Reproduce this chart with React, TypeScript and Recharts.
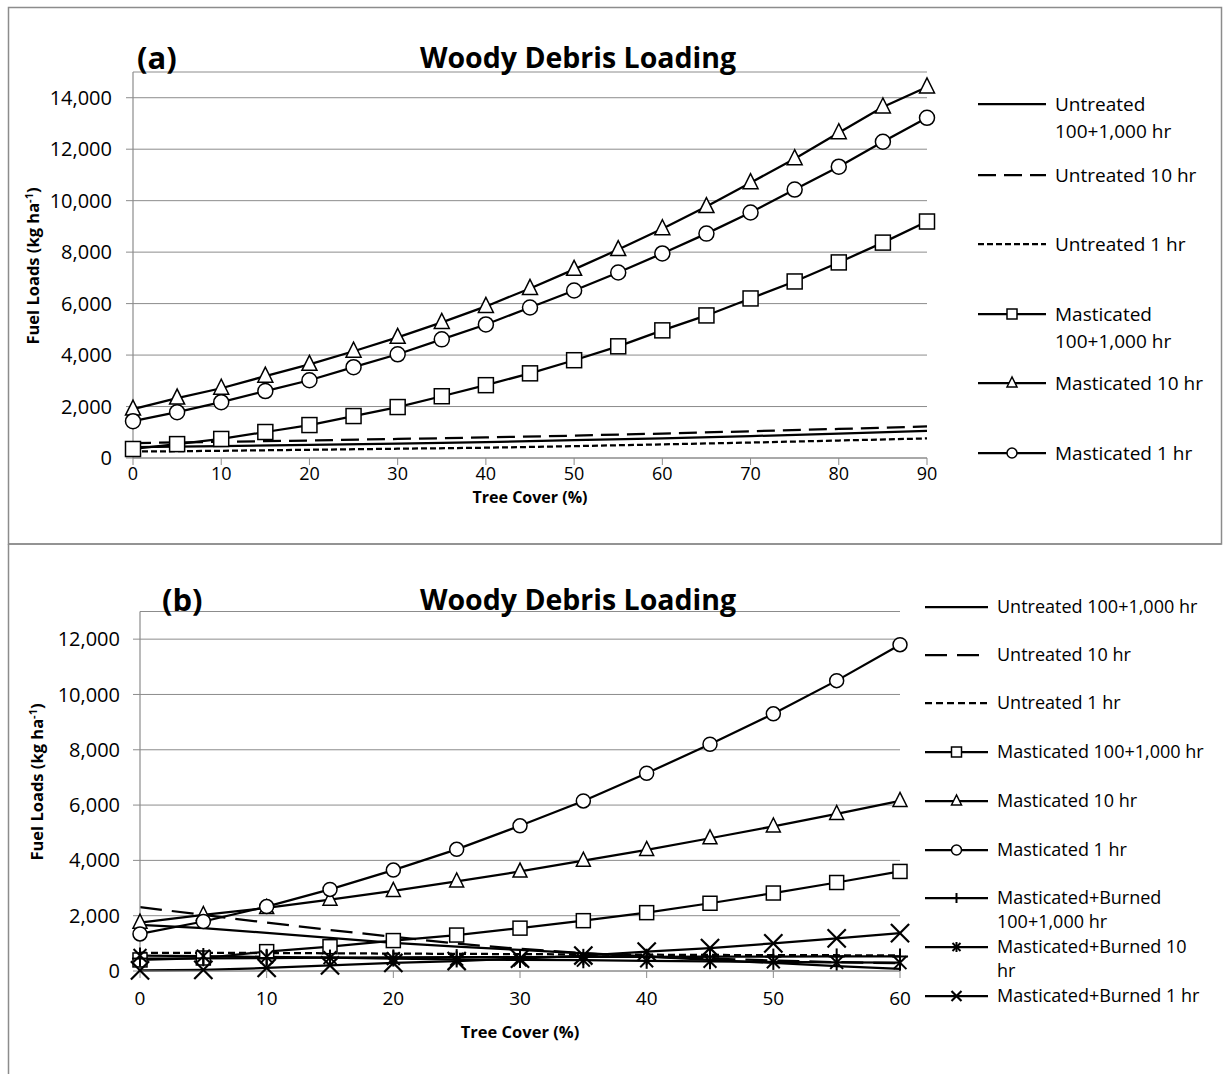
import React from 'react';
import { LineChart, Line, XAxis, YAxis, CartesianGrid } from 'recharts';

const FONT = "'Open Sans', sans-serif";
const GRID = '#8c8c8c';

// ---------- Panel (a) data ----------
const coverA = [0, 5, 10, 15, 20, 25, 30, 35, 40, 45, 50, 55, 60, 65, 70, 75, 80, 85, 90];
const mastCoarseA = [350, 540, 740, 1010, 1280, 1630, 1980, 2400, 2830, 3290, 3800, 4340, 4960, 5540, 6200, 6860, 7600, 8370, 9190];
const mast10A = [1900, 2330, 2710, 3180, 3640, 4150, 4690, 5270, 5890, 6590, 7330, 8100, 8910, 9770, 10700, 11630, 12640, 13640, 14420];
const mast1A = [1430, 1780, 2170, 2600, 3020, 3530, 4030, 4610, 5190, 5850, 6510, 7210, 7950, 8720, 9540, 10430, 11320, 12290, 13220];
const coverUntrA = [0, 10, 20, 30, 40, 50, 60, 70, 80, 90];
const untrCoarseA = [420, 460, 510, 560, 620, 690, 760, 850, 950, 1050];
const untr10A = [580, 630, 680, 740, 800, 870, 950, 1040, 1130, 1225];
const untr1A = [250, 280, 320, 360, 400, 460, 530, 600, 680, 760];
const xTicksA = [0, 10, 20, 30, 40, 50, 60, 70, 80, 90];
const yTicksA = [0, 2000, 4000, 6000, 8000, 10000, 12000, 14000];

// ---------- Panel (b) data ----------
const coverB = [0, 5, 10, 15, 20, 25, 30, 35, 40, 45, 50, 55, 60];
const untrCoarseB = [1670, 1550, 1380, 1200, 1020, 880, 760, 640, 520, 400, 290, 180, 80];
const untr10B = [2310, 2030, 1750, 1480, 1240, 990, 800, 650, 520, 450, 380, 320, 280];
const untr1B = [660, 655, 650, 640, 630, 620, 610, 600, 590, 580, 575, 570, 560];
const mastCoarseB = [400, 470, 700, 880, 1100, 1300, 1550, 1820, 2110, 2450, 2820, 3200, 3600];
const mast10B = [1750, 2030, 2280, 2580, 2900, 3240, 3600, 3990, 4380, 4800, 5230, 5680, 6150];
const mast1B = [1340, 1790, 2330, 2950, 3650, 4400, 5250, 6150, 7150, 8200, 9300, 10500, 11800];
const mbCoarseB = [450, 460, 470, 480, 490, 500, 505, 510, 515, 520, 520, 525, 525];
const mb10B = [560, 540, 510, 480, 450, 420, 400, 390, 370, 350, 330, 310, 300];
const mb1B = [20, 40, 110, 200, 290, 360, 450, 560, 700, 830, 1000, 1180, 1370];
const xTicksB = [0, 10, 20, 30, 40, 50, 60];
const yTicksB = [0, 2000, 4000, 6000, 8000, 10000, 12000];

const rows = (xs: number[], ys: number[]) => xs.map((x, i) => ({ x, y: ys[i] }));

type Shape = 'square' | 'triangle' | 'circle' | 'plus' | 'star' | 'cross' | 'none';

const SIZE_SCALE: Record<string, number> = { square: 1, circle: 1, triangle: 1, plus: 1.15, star: 1.15, cross: 1.3, none: 1 };

function Marker({ shape, cx, cy, s }: { shape: Shape; cx: number; cy: number; s: number }) {
  if (cx == null || cy == null) return null;
  const h = s / 2;
  switch (shape) {
    case 'square':
      return <rect x={cx - h} y={cy - h} width={s} height={s} fill="#fff" stroke="#000" strokeWidth={1.5} />;
    case 'circle':
      return <circle cx={cx} cy={cy} r={h} fill="#fff" stroke="#000" strokeWidth={1.5} />;
    case 'triangle':
      return (
        <polygon
          points={`${cx},${cy - s * 0.6} ${cx - h},${cy + s * 0.4} ${cx + h},${cy + s * 0.4}`}
          fill="#fff"
          stroke="#000"
          strokeWidth={1.5}
        />
      );
    case 'plus':
      return (
        <g stroke="#000" strokeWidth={2}>
          <line x1={cx} y1={cy - h} x2={cx} y2={cy + h} />
          <line x1={cx - h} y1={cy} x2={cx + h} y2={cy} />
        </g>
      );
    case 'star':
      return (
        <g stroke="#000" strokeWidth={2}>
          <line x1={cx - h * 0.8} y1={cy - h * 0.8} x2={cx + h * 0.8} y2={cy + h * 0.8} />
          <line x1={cx - h * 0.8} y1={cy + h * 0.8} x2={cx + h * 0.8} y2={cy - h * 0.8} />
          <line x1={cx} y1={cy - h} x2={cx} y2={cy + h} />
        </g>
      );
    case 'cross':
      return (
        <g stroke="#000" strokeWidth={2.2}>
          <line x1={cx - h} y1={cy - h} x2={cx + h} y2={cy + h} />
          <line x1={cx - h} y1={cy + h} x2={cx + h} y2={cy - h} />
        </g>
      );
    default:
      return null;
  }
}

const dotFn = (shape: Shape, s: number) => (p: any) => (
  <Marker key={`${shape}-${p.index}`} shape={shape} cx={p.cx} cy={p.cy} s={s * SIZE_SCALE[shape]} />
);

type Series = { name: string; lines: string[]; data: { x: number; y: number }[]; dash?: string; shape: Shape };

const seriesA: Series[] = [
  { name: 'uc', lines: ['Untreated', '100+1,000 hr'], data: rows(coverUntrA, untrCoarseA), shape: 'none' },
  { name: 'u10', lines: ['Untreated 10 hr'], data: rows(coverUntrA, untr10A), dash: '18 8', shape: 'none' },
  { name: 'u1', lines: ['Untreated 1 hr'], data: rows(coverUntrA, untr1A), dash: '6 3', shape: 'none' },
  { name: 'mc', lines: ['Masticated', '100+1,000 hr'], data: rows(coverA, mastCoarseA), shape: 'square' },
  { name: 'm10', lines: ['Masticated 10 hr'], data: rows(coverA, mast10A), shape: 'triangle' },
  { name: 'm1', lines: ['Masticated 1 hr'], data: rows(coverA, mast1A), shape: 'circle' },
];
const legendYA = [104, 175, 244, 314, 383, 453];

const seriesB: Series[] = [
  { name: 'uc', lines: ['Untreated 100+1,000 hr'], data: rows(coverB, untrCoarseB), shape: 'none' },
  { name: 'u10', lines: ['Untreated 10 hr'], data: rows(coverB, untr10B), dash: '22 10', shape: 'none' },
  { name: 'u1', lines: ['Untreated 1 hr'], data: rows(coverB, untr1B), dash: '7 4', shape: 'none' },
  { name: 'mc', lines: ['Masticated 100+1,000 hr'], data: rows(coverB, mastCoarseB), shape: 'square' },
  { name: 'm10', lines: ['Masticated 10 hr'], data: rows(coverB, mast10B), shape: 'triangle' },
  { name: 'm1', lines: ['Masticated 1 hr'], data: rows(coverB, mast1B), shape: 'circle' },
  { name: 'bc', lines: ['Masticated+Burned', '100+1,000 hr'], data: rows(coverB, mbCoarseB), shape: 'plus' },
  { name: 'b10', lines: ['Masticated+Burned 10', 'hr'], data: rows(coverB, mb10B), shape: 'star' },
  { name: 'b1', lines: ['Masticated+Burned 1 hr'], data: rows(coverB, mb1B), shape: 'cross' },
];
const legendYB = [607, 655, 703, 752, 801, 850, 898, 947, 996];

const fmt = (v: number) => v.toLocaleString('en-US');

function Legend({ series, ys, x1, x2, tx, ms, lh, fs }: { series: Series[]; ys: number[]; x1: number; x2: number; tx: number; ms: number; lh: number; fs: number }) {
  return (
    <g>
      {series.map((s, i) => (
        <g key={s.name}>
          <line x1={x1} y1={ys[i]} x2={x2} y2={ys[i]} stroke="#000" strokeWidth={2.25} strokeDasharray={s.dash} />
          <Marker shape={s.shape} cx={(x1 + x2) / 2} cy={ys[i]} s={ms} />
          {s.lines.map((t, j) => (
            <text key={j} x={tx} y={ys[i] + j * lh} dy="0.36em" fontSize={fs} fontFamily={FONT} fill="#000">
              {t}
            </text>
          ))}
        </g>
      ))}
    </g>
  );
}

function Panel({
  series, xTicks, yTicks, xMax, yMax, width, height, margin, markerSize, xTickMargin, yTickMargin, xFont,
}: any) {
  return (
    <LineChart width={width} height={height} margin={margin}>
      <CartesianGrid horizontal vertical={false} stroke={GRID} strokeWidth={1} />
      <XAxis
        dataKey="x"
        type="number"
        domain={[0, xMax]}
        ticks={xTicks}
        height={40}
        allowDuplicatedCategory={false}
        stroke={GRID}
        tickSize={7}
        tickMargin={xTickMargin}
        tick={{ fill: '#000', fontSize: xFont, fontFamily: FONT }}
        axisLine={{ stroke: GRID, strokeWidth: 1.2 }}
        tickLine={{ stroke: GRID }}
      />
      <YAxis
        type="number"
        domain={[0, yMax]}
        ticks={yTicks}
        width={60}
        tickFormatter={fmt}
        tickSize={7}
        tickMargin={yTickMargin}
        tick={{ fill: '#000', fontSize: 20, fontFamily: FONT }}
        axisLine={{ stroke: GRID, strokeWidth: 1.2 }}
        tickLine={{ stroke: GRID }}
      />
      {series.map((s: Series) => (
        <Line
          key={s.name}
          data={s.data}
          dataKey="y"
          type="linear"
          stroke="#000"
          strokeWidth={2.25}
          strokeDasharray={s.dash}
          dot={s.shape === 'none' ? false : dotFn(s.shape, markerSize)}
          activeDot={false}
          isAnimationActive={false}
        />
      ))}
    </LineChart>
  );
}

function YTitle({ x, y }: { x: number; y: number }) {
  return (
    <text
      x={x}
      y={y}
      transform={`rotate(-90, ${x}, ${y})`}
      textAnchor="middle"
      dy="0.36em"
      fontSize={16.5}
      fontWeight="bold"
      fontFamily={FONT}
      fill="#000"
    >
      Fuel Loads (kg ha<tspan dy="-6" fontSize={11}>-1</tspan>
      <tspan dy="6">)</tspan>
    </text>
  );
}

export default function App() {
  return (
    <div style={{ position: 'absolute', left: 0, top: 0, width: 1225, height: 1074, overflow: 'hidden', background: '#fff' }}>
      <div style={{ position: 'absolute', left: 0, top: 0 }}>
        <Panel
          series={seriesA}
          xTicks={xTicksA}
          yTicks={yTicksA}
          xMax={90}
          yMax={15000}
          width={1225}
          height={544}
          margin={{ top: 72, right: 298, bottom: 46, left: 73 }}
          markerSize={15}
          xTickMargin={2}
          yTickMargin={14}
          xFont={18}
        />
      </div>
      <div style={{ position: 'absolute', left: 0, top: 544 }}>
        <Panel
          series={seriesB}
          xTicks={xTicksB}
          yTicks={yTicksB}
          xMax={60}
          yMax={13000}
          width={1225}
          height={530}
          margin={{ top: 67.5, right: 325, bottom: 63, left: 80 }}
          markerSize={14}
          xTickMargin={14}
          yTickMargin={13}
          xFont={19}
        />
      </div>
      <svg width={1225} height={1074} style={{ position: 'absolute', left: 0, top: 0, pointerEvents: 'none' }}>
        {/* panel borders */}
        <rect x={8.5} y={7.5} width={1213} height={536.5} fill="none" stroke={GRID} strokeWidth={1.5} />
        <line x1={8.5} y1={544} x2={8.5} y2={1074} stroke={GRID} strokeWidth={1.5} />
        <line x1={8.5} y1={544} x2={1221.5} y2={544} stroke={GRID} strokeWidth={1.5} />

        {/* panel (a) titles */}
        <text x={137} y={58} dy="0.36em" fontSize={31} fontWeight="bold" fontFamily={FONT}>(a)</text>
        <text x={578} y={58} dy="0.36em" textAnchor="middle" fontSize={28.5} fontWeight="bold" fontFamily={FONT}>
          Woody Debris Loading
        </text>
        <text x={530} y={497} dy="0.36em" textAnchor="middle" fontSize={16} fontWeight="bold" fontFamily={FONT}>
          Tree Cover (%)
        </text>
        <YTitle x={33} y={266} />
        <Legend series={seriesA} ys={legendYA} x1={978} x2={1046} tx={1055} ms={10} lh={27} fs={19} />

        {/* panel (b) titles */}
        <text x={162} y={600} dy="0.36em" fontSize={31} fontWeight="bold" fontFamily={FONT}>(b)</text>
        <text x={578} y={600} dy="0.36em" textAnchor="middle" fontSize={28.5} fontWeight="bold" fontFamily={FONT}>
          Woody Debris Loading
        </text>
        <text x={520} y={1032} dy="0.36em" textAnchor="middle" fontSize={16.5} fontWeight="bold" fontFamily={FONT}>
          Tree Cover (%)
        </text>
        <YTitle x={37} y={782} />
        <Legend series={seriesB} ys={legendYB} x1={925} x2={988} tx={997} ms={10} lh={24} fs={18} />
      </svg>
    </div>
  );
}
